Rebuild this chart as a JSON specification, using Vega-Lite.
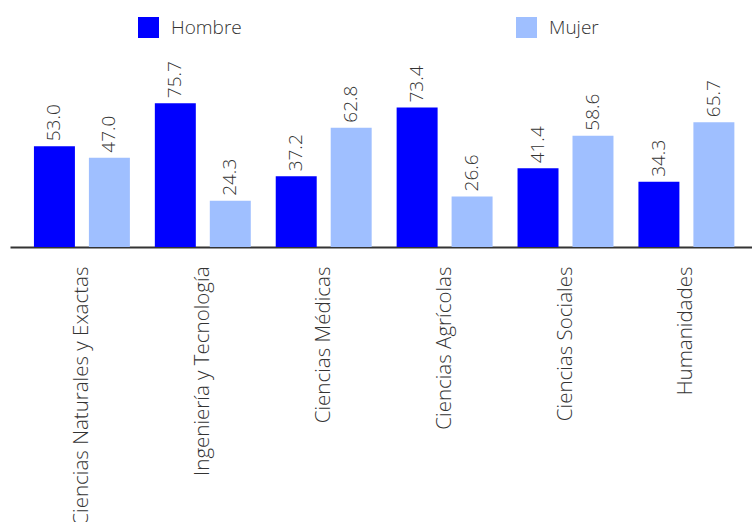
{
  "$schema": "https://vega.github.io/schema/vega-lite/v6.json",
  "autosize": {"type": "none"},
  "width": 742,
  "height": 190,
  "padding": {"left": 10, "top": 57, "right": 0, "bottom": 275},
  "background": "white",
  "config": {
    "view": {"stroke": null},
    "font": "Open Sans",
    "axisX": {
      "labelAngle": -90,
      "labelAlign": "right",
      "labelBaseline": "middle",
      "labelFont": "Open Sans",
      "labelFontWeight": 300,
      "labelFontSize": 20.5,
      "labelColor": "#333333",
      "labelPadding": 19,
      "labelLimit": 400,
      "labelOverlap": false,
      "ticks": false,
      "domainColor": "#333333",
      "domainWidth": 2,
      "grid": false
    }
  },
  "data": {
    "values": [
      {"area": "Ciencias Naturales y Exactas", "sexo": "Hombre", "valor": 53.0},
      {"area": "Ciencias Naturales y Exactas", "sexo": "Mujer", "valor": 47.0},
      {"area": "Ingeniería y Tecnología", "sexo": "Hombre", "valor": 75.7},
      {"area": "Ingeniería y Tecnología", "sexo": "Mujer", "valor": 24.3},
      {"area": "Ciencias Médicas", "sexo": "Hombre", "valor": 37.2},
      {"area": "Ciencias Médicas", "sexo": "Mujer", "valor": 62.8},
      {"area": "Ciencias Agrícolas", "sexo": "Hombre", "valor": 73.4},
      {"area": "Ciencias Agrícolas", "sexo": "Mujer", "valor": 26.6},
      {"area": "Ciencias Sociales", "sexo": "Hombre", "valor": 41.4},
      {"area": "Ciencias Sociales", "sexo": "Mujer", "valor": 58.6},
      {"area": "Humanidades", "sexo": "Hombre", "valor": 34.3},
      {"area": "Humanidades", "sexo": "Mujer", "valor": 65.7}
    ]
  },
  "layer": [
    {
      "mark": {"type": "bar"},
      "encoding": {
        "x": {
          "field": "area",
          "type": "nominal",
          "sort": null,
          "title": null,
          "scale": {"paddingInner": 0, "paddingOuter": 0.0687, "align": 0.69}
        },
        "xOffset": {
          "field": "sexo",
          "type": "nominal",
          "sort": ["Hombre", "Mujer"],
          "scale": {"paddingInner": 0.2545, "paddingOuter": 0.227}
        },
        "y": {
          "field": "valor",
          "type": "quantitative",
          "scale": {"domain": [0, 100]},
          "axis": null
        },
        "color": {
          "field": "sexo",
          "type": "nominal",
          "sort": ["Hombre", "Mujer"],
          "scale": {"domain": ["Hombre", "Mujer"], "range": ["#0000FF", "#9FBFFF"]},
          "legend": {
            "title": null,
            "orient": "none",
            "direction": "horizontal",
            "columns": 2,
            "legendX": 128,
            "legendY": -40,
            "symbolType": "square",
            "symbolSize": 441,
            "symbolStrokeWidth": 0,
            "symbolOpacity": 1,
            "labelFont": "Open Sans",
            "labelFontWeight": 300,
            "labelFontSize": 19,
            "labelColor": "#333333",
            "labelOffset": 12,
            "columnPadding": 274
          }
        }
      }
    },
    {
      "mark": {
        "type": "text",
        "angle": 270,
        "align": "left",
        "baseline": "middle",
        "dx": 5,
        "font": "Open Sans",
        "fontWeight": 300,
        "fontSize": 19,
        "color": "#333333"
      },
      "encoding": {
        "x": {"field": "area", "type": "nominal", "sort": null, "title": null},
        "xOffset": {"field": "sexo", "type": "nominal", "sort": ["Hombre", "Mujer"]},
        "y": {"field": "valor", "type": "quantitative"},
        "text": {"field": "valor", "type": "quantitative", "format": ".1f"}
      }
    }
  ]
}
